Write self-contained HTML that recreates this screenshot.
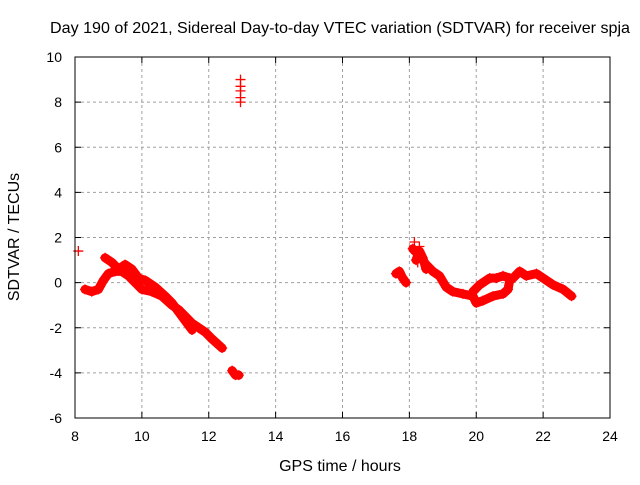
<!DOCTYPE html>
<html><head><meta charset="utf-8"><style>
body{margin:0;background:#fff}
svg{font-family:"Liberation Sans",sans-serif;font-size:14px}
</style></head><body>
<svg id="chart" width="640" height="480" viewBox="0 0 640 480">
<rect width="640" height="480" fill="#fff"/>
<text x="50" y="33" font-size="16" textLength="580" lengthAdjust="spacingAndGlyphs">Day 190 of 2021, Sidereal Day-to-day VTEC variation (SDTVAR) for receiver spja</text>
<text x="340" y="471" text-anchor="middle" font-size="16">GPS time / hours</text>
<text transform="translate(19,237) rotate(-90)" text-anchor="middle" font-size="16">SDTVAR / TECUs</text>
<g id="grid"></g><g id="marks"></g>
<rect x="75" y="57" width="535" height="361" fill="none" stroke="#000"/>
</svg>
<script>
const xTicks=[8,10,12,14,16,18,20,22,24];
const yTicks=[-6,-4,-2,0,2,4,6,8,10];
const segA_t=[8.3,8.5,8.7,8.85,9.0,9.2,9.4,9.6,9.8,10.0,10.3,10.6,10.9,11.1,11.3,11.5,11.7,11.9,12.1,12.4];
const segA_v=[-0.3,-0.4,-0.3,0.1,0.4,0.5,0.5,0.3,0.0,-0.3,-0.4,-0.6,-1.0,-1.2,-1.5,-1.8,-2.0,-2.2,-2.5,-2.9];
const segB_t=[8.9,9.1,9.3,9.5,9.7,9.9,10.1,10.4,10.7,10.9,11.1,11.3,11.5];
const segB_v=[1.1,0.9,0.6,0.8,0.6,0.2,0.1,-0.2,-0.6,-0.9,-1.3,-1.7,-2.1];
const segC_t=[18.1,18.3,18.5,18.7,18.9,19.1,19.3,19.6,19.9,20.0,20.2,20.5,20.8,20.95,21.0,21.1,21.3,21.5,21.8,22.0,22.3,22.6,22.85];
const segC_v=[1.5,1.2,0.8,0.5,0.3,-0.2,-0.4,-0.5,-0.6,-0.9,-0.8,-0.6,-0.5,-0.3,0.1,0.2,0.5,0.3,0.4,0.2,-0.1,-0.3,-0.6];
const segD_t=[19.9,20.1,20.4,20.6,20.8,21.0];
const segD_v=[-0.4,-0.1,0.2,0.2,0.3,0.2];
const segE_t=[17.6,17.7,17.8,17.9];
const segE_v=[0.4,0.5,0.2,0.0];
const segF_t=[12.7,12.8,12.9];
const segF_v=[-3.9,-4.1,-4.1];
const segG_t=[18.2,18.3,18.4,18.5];
const segG_v=[1.0,1.4,1.1,0.6];
const pts_t=[8.1,12.95,12.95,12.95,12.95,12.95,18.15,18.2,18.25,18.3];
const pts_v=[1.4,9.0,8.7,8.5,8.2,8.0,1.8,1.3,0.9,1.6];
const X=t=>75+(t-8)*535/16, Y=v=>418-(v+6)*361/16;
const NS="http://www.w3.org/2000/svg";
const grid=document.getElementById('grid'), marks=document.getElementById('marks');
function mk(tag,at,p){const e=document.createElementNS(NS,tag);for(const k in at)e.setAttribute(k,at[k]);p.appendChild(e);return e;}
xTicks.forEach(t=>{
 if(t>8&&t<24){const l=mk('line',{x1:X(t),x2:X(t),y1:57,y2:418,stroke:'#a0a0a0','stroke-dasharray':'3,3'},grid);
 
 }
 mk('line',{x1:X(t),x2:X(t),y1:418,y2:412,stroke:'#000'},grid);
 mk('line',{x1:X(t),x2:X(t),y1:57,y2:63,stroke:'#000'},grid);
 const tx=mk('text',{x:X(t),y:441,'text-anchor':'middle'},grid);tx.textContent=t;
 
 
});
yTicks.forEach(v=>{
 if(v>-6&&v<10){const l=mk('line',{x1:75,x2:610,y1:Y(v),y2:Y(v),stroke:'#a0a0a0','stroke-dasharray':'3,3'},grid);
 
 }
 mk('line',{x1:75,x2:81,y1:Y(v),y2:Y(v),stroke:'#000'},grid);
 mk('line',{x1:610,x2:604,y1:Y(v),y2:Y(v),stroke:'#000'},grid);
 const tx=mk('text',{x:62,y:Y(v)+5,'text-anchor':'end'},grid);tx.textContent=v;
 
 
});
function plus(t,v){const x=X(t),y=Y(v);mk('path',{d:`M${x-5},${y}h10M${x},${y-5}v10`,stroke:'#f00','stroke-width':1.3},marks);}
[[segA_t,segA_v],[segB_t,segB_v],[segC_t,segC_v],[segD_t,segD_v],[segE_t,segE_v],[segF_t,segF_v],[segG_t,segG_v]].forEach(([ts,vs])=>{
 const pl=mk('polyline',{points:ts.map((t,i)=>X(t)+','+Y(vs[i])).join(' '),fill:'none',stroke:'#f00','stroke-width':9,'stroke-linejoin':'round','stroke-linecap':'round'},marks);
 
 
 ts.forEach((t,i)=>plus(t,vs[i]));
});
pts_t.forEach((t,i)=>plus(t,pts_v[i]));
</script>
</body></html>
